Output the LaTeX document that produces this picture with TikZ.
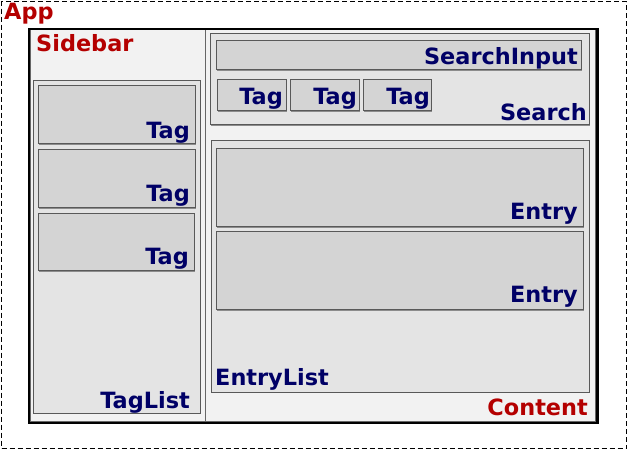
\documentclass[tikz,border=0pt]{standalone}
\usepackage{fontspec}
\setmainfont{DejaVu Sans}
\usetikzlibrary{shadows}
\definecolor{appred}{RGB}{180,0,0}
\definecolor{navy}{RGB}{0,0,102}
\definecolor{lvA}{RGB}{242,242,242}
\definecolor{lvB}{RGB}{228,228,228}
\definecolor{lvC}{RGB}{212,212,212}
\tikzset{
  box/.style={draw=black!65, line width=1pt, anchor=north west, inner sep=0pt, outer sep=0pt,
    drop shadow={shadow xshift=1pt, shadow yshift=-1pt, fill=black!45, opacity=1}},
  redlab/.style={text=appred, font=\bfseries\fontsize{22.4}{22.4}\selectfont, inner sep=0pt},
  bluelab/.style={text=navy, font=\bfseries\fontsize{22.4}{22.4}\selectfont, inner sep=0pt},
}
\newcommand{\bx}[6]{\node[box, fill=#6, minimum width=#4-#2, minimum height=#5-#3] (#1) at (#2,#3) {};}
\begin{document}
\begin{tikzpicture}[x=1pt,y=-1pt]
\useasboundingbox (0,0) rectangle (627,449);
% App
\node[draw=black, line width=1.2pt, dash pattern=on 5pt off 3pt, anchor=north west, minimum width=625, minimum height=447, inner sep=0pt] (app) at (1,1) {};
\node[redlab, anchor=base west] (applab) at (4,20) {App};
% outer frame
\node[draw=black, line width=2pt, anchor=north west, minimum width=567, minimum height=392, inner sep=0pt,
  drop shadow={shadow xshift=1.5pt, shadow yshift=-1.5pt, fill=black!40, opacity=1}, fill=lvA] (frame) at (29,29) {};
% Sidebar & Content
\node[draw=black!60, line width=1pt, fill=lvA, anchor=north west, minimum width=176, minimum height=391, inner sep=0pt] (sidebar) at (29.5,29.5) {};
\node[draw=black!60, line width=1pt, fill=lvA, anchor=north west, minimum width=390, minimum height=391, inner sep=0pt] (content) at (205,29.5) {};
\draw[black, line width=2pt] (frame.north west) rectangle (frame.south east);
\node[redlab, anchor=base west] (sidelab) at (36,52) {Sidebar};
\node[redlab, anchor=base east] (contlab) at (588,415) {Content};
% TagList
\bx{taglist}{33}{81}{200}{413}{lvB}
\node[bluelab, anchor=base east] (tllab) at (190,408) {TagList};
\bx{tag1}{38}{86}{195}{144}{lvC}
\bx{tag2}{38}{150}{195}{208}{lvC}
\bx{tag3}{38}{214}{194}{271}{lvC}
\node[bluelab, anchor=base east] (t1lab) at (190,139) {Tag};
\node[bluelab, anchor=base east] (t2lab) at (190,202) {Tag};
\node[bluelab, anchor=base east] (t3lab) at (189,265) {Tag};
% Search
\bx{search}{210}{34}{589}{125}{lvB}
\node[bluelab, anchor=base east] (slab) at (587,121) {Search};
\bx{sinput}{216}{41}{581}{70}{lvC}
\node[bluelab, anchor=base east] (silab) at (578,65) {SearchInput};
\bx{stag1}{217}{80}{286}{111}{lvC}
\bx{stag2}{290}{80}{359}{111}{lvC}
\bx{stag3}{363}{80}{431}{111}{lvC}
\node[bluelab, anchor=base east] (st1lab) at (283,105) {Tag};
\node[bluelab, anchor=base east] (st2lab) at (357,105) {Tag};
\node[bluelab, anchor=base east] (st3lab) at (430,105) {Tag};
% EntryList
\bx{entrylist}{211}{141}{589}{392}{lvB}
\node[bluelab, anchor=base west] (ellab) at (215,385) {EntryList};
\bx{entry1}{216}{149}{583}{227}{lvC}
\bx{entry2}{216}{232}{583}{310}{lvC}
\node[bluelab, anchor=base east] (e1lab) at (578,220) {Entry};
\node[bluelab, anchor=base east] (e2lab) at (578,303) {Entry};
\end{tikzpicture}
\end{document}
